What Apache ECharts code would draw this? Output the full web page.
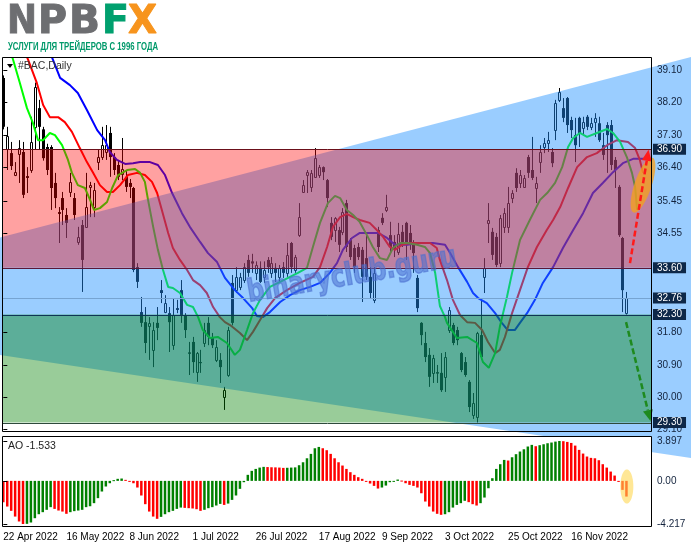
<!DOCTYPE html>
<html><head><meta charset="utf-8">
<script src="https://cdn.jsdelivr.net/npm/echarts@6/dist/echarts.min.js"></script>
<style>html,body{margin:0;padding:0;background:#fff}#c{width:691px;height:549px}</style>
</head><body><div id="c"></div>
<script>
// ---------- data ----------
const tickLabels = ['22 Apr 2022','16 May 2022','8 Jun 2022','1 Jul 2022','26 Jul 2022','17 Aug 2022','9 Sep 2022','3 Oct 2022','25 Oct 2022','16 Nov 2022'];
const tickIndex = [0,16,32,48,64,80,96,112,128,144];
// [open, high, low, close] per daily bar
const ohlc = [
[38.88,38.95,37.45,37.52],[36.90,37.52,36.32,37.27],[36.79,37.10,36.32,36.43],[36.18,36.54,36.15,36.26],[36.75,37.15,35.96,36.92],
[36.82,37.10,35.54,35.63],[36.15,36.40,35.68,36.10],[36.32,37.80,36.24,37.10],[37.52,38.75,36.90,38.63],[38.04,38.27,36.88,37.52],
[37.45,37.52,36.58,36.65],[36.96,37.05,36.18,36.32],[36.96,37.01,35.21,35.82],[35.96,36.24,35.26,35.54],[35.15,35.29,34.29,35.10],
[35.54,35.71,34.79,35.21],[35.07,35.26,34.43,34.85],[35.71,36.24,35.57,35.99],[35.54,35.68,34.93,35.07],[34.32,34.74,34.24,34.46],
[34.79,34.93,32.93,33.82],[34.74,36.24,34.71,35.29],[35.85,35.99,35.01,35.90],[35.29,35.96,35.01,35.76],[36.54,36.88,36.32,36.68],
[36.68,37.52,36.60,37.01],[36.82,37.57,36.60,37.01],[37.35,37.52,36.13,36.68],[36.68,36.79,36.18,36.32],[36.46,36.60,36.04,36.13],
[36.20,37.21,36.04,36.35],[36.13,36.32,35.71,35.85],[35.96,36.07,35.54,35.85],[35.82,35.85,33.48,33.54],[33.62,33.73,33.04,33.21],
[32.37,32.79,31.96,32.07],[32.09,32.51,31.23,31.51],[31.99,32.23,31.04,32.07],[31.32,32.09,30.84,31.87],[32.07,32.51,31.59,31.93],
[32.98,33.26,32.62,32.90],[32.37,32.84,32.34,32.62],[32.34,32.51,31.26,32.09],[31.45,32.76,31.32,32.29],[32.48,32.71,32.34,32.43],
[32.98,33.26,32.07,32.29],[32.29,32.34,31.65,31.87],[31.25,31.54,30.62,31.21],[31.54,31.68,30.68,30.98],[30.70,31.26,30.43,31.23],
[30.98,31.32,30.68,30.95],[31.51,32.07,31.40,31.87],[32.07,32.23,31.45,31.68],[31.65,31.79,31.37,31.45],[31.04,31.59,30.98,31.40],
[31.04,31.23,30.40,30.84],[30.01,30.29,29.65,30.20],[30.62,31.96,30.57,31.87],[33.18,33.40,32.00,32.07],[32.98,33.62,32.90,33.35],
[33.07,33.46,32.98,33.35],[33.26,33.73,33.18,33.62],[33.82,33.96,33.35,33.46],[33.78,33.99,33.46,33.72],[33.46,33.78,33.26,33.68],
[33.60,33.78,33.18,33.21],[33.35,33.78,33.18,33.54],[33.82,33.90,33.46,33.62],[33.46,33.90,33.32,33.73],[33.60,33.73,33.21,33.46],
[33.35,33.68,33.21,33.60],[33.62,33.76,33.32,33.46],[33.46,34.29,33.35,33.96],[34.29,34.32,33.46,33.62],[33.54,33.96,33.46,33.90],
[34.51,35.40,34.46,35.01],[35.71,36.04,35.68,35.90],[36.18,36.32,35.68,36.26],[35.85,36.32,35.71,36.24],[36.13,36.93,36.10,36.65],
[36.18,36.46,36.10,36.40],[36.40,36.42,36.04,36.26],[36.04,36.07,35.29,35.54],[34.85,35.01,34.37,34.46],[34.65,35.01,34.32,34.99],
[34.65,34.74,34.04,34.24],[34.60,35.26,34.51,35.15],[35.40,35.49,34.04,34.18],[34.37,34.43,33.82,33.90],[34.15,34.24,33.46,33.62],
[34.18,34.29,33.82,33.90],[34.10,34.18,32.65,33.35],[33.87,34.51,33.26,33.35],[33.35,33.62,32.76,32.90],[32.71,33.62,32.62,33.46],
[34.65,34.74,34.04,34.18],[34.99,35.12,34.79,34.85],[35.21,35.63,35.15,35.29],[34.51,34.88,34.01,34.18],[34.32,34.51,33.90,34.10],
[34.04,34.85,33.96,34.54],[34.60,34.79,34.18,34.32],[34.85,34.88,33.82,34.29],[34.57,34.79,34.10,34.29],[34.29,34.37,33.46,34.01],
[33.32,33.40,32.37,32.48],[32.07,32.09,31.45,31.73],[31.51,31.82,30.98,31.12],[31.18,31.37,30.29,30.57],[30.68,31.18,30.40,31.10],
[30.70,30.90,30.40,30.66],[30.68,31.23,30.15,30.20],[30.57,31.26,30.15,31.12],[31.87,32.51,31.79,32.43],[32.01,32.07,31.45,31.51],
[31.87,31.96,31.45,31.59],[31.23,31.26,30.70,30.76],[30.98,31.12,30.57,30.62],[30.43,30.48,29.59,29.73],[29.51,30.12,29.40,29.84],
[29.45,31.82,29.30,31.79],[31.73,32.71,31.04,31.12],[33.35,33.87,32.90,33.60],[34.85,35.40,34.29,34.93],[34.60,34.71,33.82,33.96],
[34.46,34.57,33.62,33.68],[33.73,35.07,33.62,34.99],[34.74,35.26,34.57,35.12],[34.74,35.85,34.57,35.40],[35.54,35.76,35.40,35.68],
[36.24,36.37,35.71,35.82],[35.96,36.32,35.82,36.18],[35.85,36.18,35.82,36.10],[36.68,36.74,36.10,36.24],[36.32,37.24,36.04,36.10],
[35.82,36.13,35.40,35.96],[36.54,37.01,36.24,36.82],[36.96,37.21,36.79,37.07],[37.07,37.38,36.82,37.15],[36.82,36.93,36.40,36.51],
[37.43,38.27,37.15,38.18],[38.27,38.60,38.21,38.49],[38.04,38.32,37.65,37.77],[38.32,38.35,37.35,37.57],[37.71,37.80,37.21,37.43],
[37.29,37.77,36.54,37.01],[37.77,37.80,36.96,37.35],[37.49,37.80,37.29,37.65],[37.80,37.85,37.43,37.52],[37.52,37.77,37.43,37.62],
[37.65,37.90,37.24,37.77],[37.62,37.80,37.10,37.15],[37.01,37.35,36.60,36.74],[37.57,37.65,36.24,37.29],[37.57,37.71,36.32,36.46],
[36.60,36.68,35.82,36.32],[35.85,35.90,34.46,34.51],[34.43,34.46,32.37,32.98],[32.34,32.93,32.30,32.76]
];
// Alligator lines: [bar index, price]
const lips = [[0.4,40.10],[2.5,39.38],[4.2,38.74],[6.0,38.04],[7.5,37.63],[8.8,37.15],[10.1,37.15],[11.8,37.35],[13.1,37.29],[14.9,37.01],[16.4,36.60],[17.4,36.24],[18.9,35.90],[20.7,35.82],[22.0,35.49],[23.0,35.21],[24.5,35.26],[26.3,35.43],[27.6,35.82],[29.1,36.18],[31.4,36.32],[33.4,36.35],[34.7,36.24],[35.9,35.99],[36.7,35.49],[38.0,34.74],[39.2,34.10],[40.5,33.54],[41.8,33.07],[43.0,33.04],[44.8,32.90],[46.6,32.57],[48.1,32.51],[49.4,32.23],[50.6,31.87],[52.4,31.65],[54.4,31.68],[56.7,31.51],[58.7,31.18],[60.0,31.32],[61.8,31.87],[63.3,32.34],[65.1,32.71],[67.6,33.07],[70.2,33.21],[72.7,33.35],[74.7,33.46],[77.0,33.60],[78.5,34.18],[80.3,34.85],[82.3,35.40],[84.1,35.60],[85.4,35.54],[87.1,35.21],[88.7,35.07],[90.4,34.87],[92.2,34.51],[93.7,34.18],[95.5,33.87],[97.3,33.82],[98.8,34.15],[100.6,34.29],[102.4,34.29],[104.9,34.24],[106.9,34.18],[108.2,34.01],[109.5,33.46],[110.7,32.54],[112.0,32.23],[112.5,32.07],[115.0,31.65],[117.6,31.68],[120.1,31.51],[121.6,30.98],[123.1,30.82],[124.7,31.23],[125.9,31.96],[127.7,32.79],[129.0,33.46],[131.0,34.37],[133.5,34.93],[136.1,35.49],[137.9,35.68],[139.9,35.96],[141.7,36.40],[143.2,36.96],[144.5,37.21],[146.2,37.35],[148.0,37.24],[150.5,37.35],[153.1,37.46],[154.6,37.35],[156.4,37.10],[158.1,36.68],[159.4,36.24],[160.2,35.85],[160.7,35.21]];
const teeth = [[0.4,41.0],[6.3,39.38],[8.5,38.74],[10.1,38.13],[11.8,37.79],[13.9,37.79],[15.6,37.65],[17.4,37.38],[19.4,36.93],[21.2,36.54],[22.7,36.26],[24.5,35.90],[26.3,35.71],[27.8,35.71],[29.6,35.90],[31.6,36.18],[33.9,36.24],[35.9,36.18],[37.7,35.99],[39.0,35.68],[40.2,35.21],[41.8,34.57],[43.0,34.15],[44.8,33.82],[46.6,33.54],[48.1,33.26],[49.9,33.12],[51.6,32.90],[53.2,32.51],[54.9,32.23],[56.2,32.09],[57.5,32.01],[60.0,31.79],[61.8,31.59],[63.3,31.82],[65.1,32.15],[66.9,32.48],[68.9,32.76],[71.9,32.98],[75.2,33.18],[78.5,33.35],[80.3,33.62],[82.1,34.18],[83.6,34.74],[85.4,35.01],[87.1,35.10],[88.7,35.01],[90.4,34.93],[92.9,34.85],[94.7,34.65],[96.3,34.46],[98.0,34.18],[99.3,34.10],[101.1,34.24],[103.1,34.29],[105.6,34.29],[108.2,34.29],[109.9,34.15],[110.7,33.82],[112.5,33.26],[114.0,32.71],[115.8,32.29],[117.6,32.09],[119.6,32.07],[121.4,31.87],[122.9,31.54],[124.7,31.23],[125.9,31.32],[127.2,31.68],[129.0,32.34],[131.0,32.98],[133.0,33.62],[135.3,34.18],[137.8,34.65],[139.4,34.93],[141.2,35.29],[143.2,35.82],[145.5,36.40],[148.0,36.68],[150.5,36.79],[153.1,37.01],[155.6,37.15],[158.4,37.10],[160.2,36.93],[161.4,36.60],[162.2,36.24]];
const jaw = [[6.8,41.0],[12.6,39.38],[14.4,38.88],[16.9,38.68],[18.9,38.46],[21.2,37.99],[23.8,37.43],[25.8,37.15],[27.0,36.82],[28.8,36.60],[30.9,36.49],[32.9,36.51],[34.7,36.54],[37.2,36.54],[39.2,36.46],[41.0,36.18],[42.8,35.68],[45.3,35.12],[47.3,34.74],[49.9,34.32],[51.9,34.01],[54.2,33.76],[56.2,33.32],[58.7,32.98],[60.8,32.76],[63.1,32.48],[64.3,32.26],[65.8,32.23],[67.6,32.37],[70.2,32.65],[72.7,32.84],[75.2,32.98],[77.8,33.07],[80.3,33.18],[82.8,33.46],[84.6,33.73],[86.1,34.10],[88.4,34.43],[90.4,34.57],[92.9,34.57],[95.0,34.57],[97.3,34.43],[99.3,34.24],[102.4,34.24],[105.6,34.29],[108.9,34.29],[112.0,34.24],[113.3,34.01],[115.3,33.62],[117.6,33.21],[119.1,32.90],[120.4,32.76],[122.6,32.62],[124.7,32.34],[126.4,32.07],[127.9,31.87],[129.7,31.87],[131.0,32.07],[132.8,32.34],[134.8,32.71],[136.8,33.18],[139.4,33.62],[141.9,34.15],[144.5,34.65],[147.0,35.12],[149.5,35.68],[152.0,35.96],[154.6,36.26],[157.1,36.51],[159.7,36.63],[162.7,36.63],[164.5,36.63]];
// Awesome Oscillator, one value per bar
const ao = [-2.08,-2.51,-2.93,-3.49,-3.97,-4.217,-4.20,-4.07,-3.65,-3.26,-3.06,-2.83,-2.57,-2.74,-2.90,-3.00,-3.22,-3.06,-2.96,-2.90,
-2.83,-2.57,-2.48,-2.18,-1.69,-1.04,-0.55,-0.23,0.07,0.20,0.23,0.10,-0.03,-0.23,-0.65,-1.43,-2.28,-3.00,-3.49,-3.71,
-3.52,-3.26,-3.06,-2.93,-2.74,-2.61,-2.64,-2.67,-2.70,-2.77,-2.93,-2.83,-2.67,-2.57,-2.41,-2.25,-2.35,-2.22,-1.86,-1.43,
-0.78,-0.13,0.59,0.98,1.17,1.30,1.37,1.35,1.33,1.32,1.30,1.27,1.28,1.30,1.32,1.53,1.82,2.21,2.64,3.19,
3.32,3.19,3.00,2.64,2.21,1.82,1.50,1.17,0.85,0.59,0.36,0.20,-0.03,-0.26,-0.49,-0.75,-0.65,-0.46,-0.13,-0.02,
0.13,0.03,-0.23,-0.39,-0.49,-0.65,-1.21,-2.02,-2.51,-3.00,-3.22,-3.32,-3.26,-3.06,-2.61,-2.35,-2.18,-1.95,-2.08,-2.28,
-2.41,-2.18,-1.63,-0.72,0.26,1.17,1.63,2.05,1.99,2.31,2.61,2.87,3.09,3.36,3.52,3.39,3.49,3.58,3.68,3.75,
3.84,3.897,3.88,3.81,3.71,3.45,3.03,2.67,2.38,2.25,2.21,2.02,1.63,1.30,0.91,0.52,-0.10,-0.88,-1.533];
const priceLabels = [39.10,38.20,37.30,36.40,35.45,34.55,31.80,30.90,30.00,29.10];
const levelValues = [36.90,33.60,32.76,32.30,29.30];
const aoLabelValues = [3.897,0,-4.217];
const aoLabelTexts = ['3.897','0.00','-4.217'];
const zones = [[33.60,36.90],[29.30,32.30]];
const channel = [[-0.84,34.44],[174.4,39.46],[174.4,28.31],[-0.84,31.18]];
const arrowUp = [158.9,33.73,163.6,36.88];
const arrowDown = [157.9,32.09,164.1,29.34];
const ellipseMain = [162.2,35.90];
const ellipseAO = [158.1,-0.55];

// ---------- layout / style ----------
const GL = 3, GW = 649, MT = 58, MH = 374, AT = 437, AH = 90;
const XMIN = -0.076, XMAX = 164.48;
const PMIN = 29.036, PMAX = 39.434;
const AMIN = -4.51, AMAX = 4.29;
const zoneColors = ['rgba(255,0,0,0.37)','rgba(0,128,0,0.40)'];
const levelColors = ['#6b0f1a','#5a1838','#76a4d2','#0f3556','#2e4a3c'];
const FONT = '"Liberation Sans", Arial, sans-serif';

function measure(text, font){ const c=document.createElement('canvas').getContext('2d'); c.font=font; return c.measureText(text).width; }

function candleItem(params, api){
  const i=api.value(0), o=api.value(1), h=api.value(2), l=api.value(3), c=api.value(4);
  const po=api.coord([i,o]); const yC=api.coord([i,c])[1];
  const yH=api.coord([i,h])[1], yL=api.coord([i,l])[1];
  const xr=Math.round(po[0]);
  const top=Math.min(po[1],yC), bot=Math.max(po[1],yC);
  const ch=[{type:'line',shape:{x1:xr+0.5,y1:yH,x2:xr+0.5,y2:yL},style:{stroke:'#000',lineWidth:1}}];
  if(c>=o) ch.push({type:'rect',shape:{x:xr-0.5,y:Math.round(top)+0.5,width:2,height:Math.max(1,Math.round(bot-top))},style:{fill:'#fff',stroke:'#000',lineWidth:1}});
  else ch.push({type:'rect',shape:{x:xr-1,y:top,width:3,height:Math.max(1,bot-top)},style:{fill:'#000'}});
  return {type:'group',children:ch};
}
function ellipsePoly(cx,cy,rx,ry,rot){
  const pts=[]; for(let k=0;k<60;k++){const t=k/60*Math.PI*2; const x=rx*Math.cos(t), y=ry*Math.sin(t);
    pts.push([cx+x*Math.cos(rot)-y*Math.sin(rot), cy+x*Math.sin(rot)+y*Math.cos(rot)]);} return pts;
}
function arrowRender(color){
  return function(params, api){
    const a=api.coord([api.value(0),api.value(1)]), b=api.coord([api.value(2),api.value(3)]);
    const dx=b[0]-a[0], dy=b[1]-a[1], len=Math.hypot(dx,dy), ux=dx/len, uy=dy/len, hl=11, hw=5;
    const base=[b[0]-ux*hl,b[1]-uy*hl];
    return {type:'group',children:[
      {type:'line',shape:{x1:a[0],y1:a[1],x2:base[0],y2:base[1]},style:{stroke:color,lineWidth:2.5,lineDash:[6,3]}},
      {type:'polygon',shape:{points:[b,[base[0]-uy*hw,base[1]+ux*hw],[base[0]+uy*hw,base[1]-ux*hw]]},style:{fill:color}}
    ]};
  };
}

const subFont = 'bold 11px "Liberation Sans Narrow", "Liberation Sans", sans-serif';
const subScale = 150 / measure('УСЛУГИ ДЛЯ ТРЕЙДЕРОВ С 1996 ГОДА', subFont);
const wmFont = 'bold 31px "DejaVu Sans Condensed", "DejaVu Sans", sans-serif';
const wmScale = 212 / measure('binaryclub.guru', wmFont);

const logoFont = 'bold 39px "DejaVu Sans", sans-serif';
// letter, left x, target width, colour
const logoLetters = [['N',7,30,'#6d6e71'],['P',38,29,'#6d6e71'],['B',69,31,'#6d6e71'],['F',102,27,'#00a06e'],['X',128,29,'#f7941d']];

const chart = echarts.init(document.getElementById('c'), null, {renderer:'canvas', width:691, height:549});
const option = {
  animation:false,
  backgroundColor:'#fff',
  grid:[
    {left:GL, top:MT, width:GW, height:MH, show:false},
    {left:GL, top:AT, width:GW, height:AH, show:false}
  ],
  xAxis:[
    {type:'value', gridIndex:0, min:XMIN, max:XMAX, show:false},
    {type:'value', gridIndex:1, min:XMIN, max:XMAX, position:'bottom',
      axisLine:{show:false}, splitLine:{show:false},
      axisTick:{show:true, customValues:tickIndex, length:5, lineStyle:{color:'#000'}},
      axisLabel:{customValues:tickIndex, formatter:v=>tickLabels[tickIndex.indexOf(Math.round(v))]||'', align:'left', margin:5, color:'#000', fontSize:10, fontFamily:FONT}}
  ],
  yAxis:[
    {type:'value', gridIndex:0, position:'right', min:PMIN, max:PMAX, z:20,
      axisLine:{show:false}, splitLine:{show:false},
      axisTick:{show:true, customValues:priceLabels, length:4, lineStyle:{color:'#000'}},
      axisLabel:{customValues:priceLabels, formatter:v=>v.toFixed(2), color:'#13233d', fontSize:10, fontFamily:FONT, margin:5}},
    {type:'value', gridIndex:0, position:'right', min:PMIN, max:PMAX, z:21,
      axisLine:{show:false}, splitLine:{show:false}, axisTick:{show:false},
      axisLabel:{customValues:levelValues, formatter:v=>v.toFixed(2), color:'#fff', backgroundColor:'#0e2848', padding:[1,4,0,4], fontSize:10, fontFamily:FONT, margin:1}},
    {type:'value', gridIndex:1, position:'right', min:AMIN, max:AMAX, z:20,
      axisLine:{show:false}, splitLine:{show:false},
      axisTick:{show:true, customValues:aoLabelValues, length:4, lineStyle:{color:'#000'}},
      axisLabel:{customValues:aoLabelValues, formatter:v=>aoLabelTexts[aoLabelValues.indexOf(v)] ?? String(v), color:'#13233d', fontSize:10, fontFamily:FONT, margin:5}}
  ],
  series:[
    {type:'custom', name:'candles', xAxisIndex:0, yAxisIndex:0, z:2, clip:true, silent:true,
      data:ohlc.map((r,i)=>[i,r[0],r[1],r[2],r[3]]), encode:{x:0,y:[1,2,3,4]}, renderItem:candleItem},
    {type:'line', name:'jaw', xAxisIndex:0, yAxisIndex:0, z:3, data:jaw, showSymbol:false, clip:true, silent:true, lineStyle:{color:'#0000ff', width:2}},
    {type:'line', name:'teeth', xAxisIndex:0, yAxisIndex:0, z:3, data:teeth, showSymbol:false, clip:true, silent:true, lineStyle:{color:'#ff0000', width:2}},
    {type:'line', name:'lips', xAxisIndex:0, yAxisIndex:0, z:3, data:lips, showSymbol:false, clip:true, silent:true, lineStyle:{color:'#00ff00', width:2}},
    {type:'custom', name:'channel', xAxisIndex:0, yAxisIndex:0, z:4, clip:false, silent:true,
      data:[[0]], renderItem:(p,api)=>({type:'polygon', shape:{points:channel.map(v=>api.coord(v))}, style:{fill:'rgba(30,144,255,0.45)'}})},
    {type:'custom', name:'zones', xAxisIndex:0, yAxisIndex:0, z:5, clip:true, silent:true,
      data:zones.map((z,k)=>[z[0],z[1],k]), encode:{y:[0,1]},
      renderItem:(p,api)=>{const a=api.coord([XMIN,api.value(1)]), b=api.coord([XMAX,api.value(0)]);
        return {type:'rect', shape:{x:a[0],y:a[1],width:b[0]-a[0],height:b[1]-a[1]}, style:{fill:zoneColors[api.value(2)]}};}},
    {type:'custom', name:'levels', xAxisIndex:0, yAxisIndex:0, z:6, clip:true, silent:true,
      data:levelValues.map((v,k)=>[v,k]), encode:{y:0},
      renderItem:(p,api)=>{const a=api.coord([XMIN,api.value(0)]), b=api.coord([XMAX,api.value(0)]); const y=Math.round(a[1])+0.5;
        return {type:'line', shape:{x1:a[0],y1:y,x2:b[0],y2:y}, style:{stroke:levelColors[api.value(1)], lineWidth:1}};}},
    {type:'custom', name:'focus', xAxisIndex:0, yAxisIndex:0, z:7, clip:false, silent:true,
      data:[ellipseMain], renderItem:(p,api)=>{const c=api.coord([api.value(0),api.value(1)]);
        return {type:'polygon', shape:{points:ellipsePoly(c[0],c[1],8.5,29,0.33)}, style:{fill:'rgba(245,160,30,0.78)'}};}},
    {type:'custom', name:'arrowUp', xAxisIndex:0, yAxisIndex:0, z:8, clip:false, silent:true, data:[arrowUp], renderItem:arrowRender('#ff1a1a')},
    {type:'custom', name:'arrowDown', xAxisIndex:0, yAxisIndex:0, z:8, clip:false, silent:true, data:[arrowDown], renderItem:arrowRender('#1e8a1e')},
    {type:'custom', name:'AO', xAxisIndex:1, yAxisIndex:2, z:6, clip:true, silent:true,
      data:ao.map((v,i)=>[i,v,(i>0 && v>ao[i-1])?1:0]), encode:{x:0,y:1},
      renderItem:(p,api)=>{const a=api.coord([api.value(0),api.value(1)]), z=api.coord([api.value(0),0]);
        return {type:'rect', shape:{x:a[0]-1.25,y:Math.min(a[1],z[1]),width:2.5,height:Math.max(1,Math.abs(a[1]-z[1]))}, style:{fill:api.value(2)?'#008000':'#ff0000'}};}},
    {type:'custom', name:'aoFocus', xAxisIndex:1, yAxisIndex:2, z:7, clip:false, silent:true,
      data:[ellipseAO], renderItem:(p,api)=>{const c=api.coord([api.value(0),api.value(1)]);
        return {type:'polygon', shape:{points:ellipsePoly(c[0],c[1],6.5,17,0)}, style:{fill:'rgba(255,215,80,0.6)'}};}}
  ],
  graphic:{elements:[
    {type:'rect', z:4.5, silent:true, shape:{x:GL,y:AT,width:GW,height:AH}, style:{fill:'#fff'}},
    {type:'rect', z:50, silent:true, shape:{x:GL-0.5,y:MT-0.5,width:GW,height:MH}, style:{fill:'none',stroke:'#000',lineWidth:1}},
    {type:'rect', z:50, silent:true, shape:{x:GL-0.5,y:AT-0.5,width:GW,height:AH}, style:{fill:'none',stroke:'#000',lineWidth:1}},
    {type:'polygon', z:50, silent:true, shape:{points:[[7,64],[13,64],[10,68]]}, style:{fill:'#000'}},
    {type:'text', z:50, silent:true, x:18, y:66, style:{text:'#BAC,Daily', font:'10.5px '+FONT, fill:'#333', textVerticalAlign:'middle', verticalAlign:'middle'}},
    {type:'text', z:50, silent:true, x:8, y:446, style:{text:'AO -1.533', font:'10.5px '+FONT, fill:'#222', textVerticalAlign:'middle', verticalAlign:'middle'}},
    {type:'text', z:30, silent:true, x:352, y:276, rotation:0.17, scaleX:wmScale, style:{text:'binaryclub.guru', font:wmFont, fill:'#4a6fd0', stroke:'#4a6fd0', lineWidth:1.5, opacity:0.55, textAlign:'center', align:'center', textVerticalAlign:'middle', verticalAlign:'middle'}},
    ...logoLetters.map(l=>({type:'text', z:60, silent:true, x:l[1], y:23, scaleX:l[2]/measure(l[0],logoFont), style:{text:l[0], font:logoFont, fill:l[3], stroke:l[3], lineWidth:1, textVerticalAlign:'middle', verticalAlign:'middle'}})),
    {type:'text', z:60, silent:true, x:8, y:47, scaleX:subScale, style:{text:'УСЛУГИ ДЛЯ ТРЕЙДЕРОВ С 1996 ГОДА', font:subFont, fill:'#00996a', textVerticalAlign:'middle', verticalAlign:'middle'}}
  ]}
};
chart.setOption(option);
</script></body></html>
